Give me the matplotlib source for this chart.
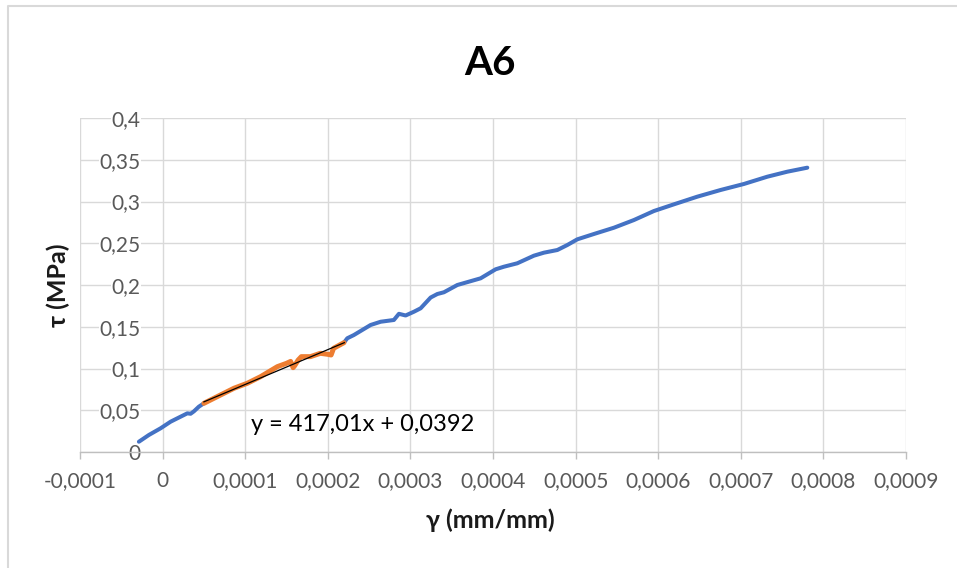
import matplotlib.pyplot as plt
from matplotlib.lines import Line2D
import numpy as np

plt.rcParams['font.family'] = ['Lato', 'DejaVu Sans']

# shear strain / shear stress, full test
gamma_a = [-2.87e-5, -1.66e-5, -2.4e-6, 9.7e-6, 2.18e-5, 2.99e-5, 3.39e-5, 3.79e-5, 4.39e-5, 5.0e-5]
tau_a = [0.0123, 0.0204, 0.0284, 0.0363, 0.0423, 0.0463, 0.0458, 0.0487, 0.0543, 0.0583]

gamma_b = [2.195e-4, 2.236e-4, 2.316e-4, 2.518e-4, 2.64e-4, 2.80e-4, 2.861e-4, 2.942e-4, 3.043e-4,
           3.124e-4, 3.245e-4, 3.326e-4, 3.406e-4, 3.568e-4, 3.850e-4, 4.032e-4, 4.132e-4, 4.294e-4,
           4.495e-4, 4.616e-4, 4.779e-4, 4.900e-4, 5.021e-4, 5.222e-4, 5.464e-4, 5.706e-4, 5.948e-4,
           6.190e-4, 6.474e-4, 6.756e-4, 7.038e-4, 7.321e-4, 7.563e-4, 7.805e-4]
tau_b = [0.1309, 0.1362, 0.1401, 0.1521, 0.1560, 0.1581, 0.1655, 0.1635, 0.1680,
         0.1721, 0.1850, 0.1892, 0.1913, 0.2000, 0.2080, 0.2188, 0.2219, 0.2260,
         0.2351, 0.2387, 0.2419, 0.2479, 0.2547, 0.2611, 0.2686, 0.2778, 0.2886,
         0.2966, 0.3058, 0.3138, 0.3210, 0.3297, 0.3357, 0.3405]

# linear range used for the fit
gamma_fit = [5.0e-5, 6.21e-5, 8.63e-5, 1.025e-4, 1.186e-4, 1.389e-4, 1.50e-4, 1.55e-4, 1.58e-4,
             1.60e-4, 1.64e-4, 1.68e-4, 1.79e-4, 1.91e-4, 2.00e-4, 2.04e-4, 2.07e-4, 2.195e-4]
tau_fit = [0.0583, 0.0643, 0.0763, 0.0823, 0.0902, 0.1022, 0.1062, 0.1085, 0.1010,
           0.1035, 0.1100, 0.1142, 0.1142, 0.1182, 0.1170, 0.1162, 0.1242, 0.1309]

slope = 417.01
intercept = 0.0392
fit_range = [5.0e-5, 2.2e-4]

xticks = [-0.0001, 0, 0.0001, 0.0002, 0.0003, 0.0004, 0.0005, 0.0006, 0.0007, 0.0008, 0.0009]
xticklabels = ['-0,0001', '0', '0,0001', '0,0002', '0,0003', '0,0004', '0,0005', '0,0006',
               '0,0007', '0,0008', '0,0009']
yticks = [0, 0.05, 0.1, 0.15, 0.2, 0.25, 0.3, 0.35, 0.4]
yticklabels = ['0', '0,05', '0,1', '0,15', '0,2', '0,25', '0,3', '0,35', '0,4']

grid_c = '#D9D9D9'
text_c = '#595959'
title_c = '#1A1A1A'

fig = plt.figure(figsize=(9.57, 5.68), dpi=100)
ax = fig.add_axes([80 / 957, 116 / 568, 826 / 957, 334 / 568])

ax.plot(gamma_a, tau_a, color='#4472C4', lw=2.9, solid_capstyle='round', solid_joinstyle='round', zorder=3)
ax.plot(gamma_b, tau_b, color='#4472C4', lw=2.9, solid_capstyle='round', solid_joinstyle='round', zorder=3)
ax.plot(gamma_fit, tau_fit, color='#ED7D31', lw=3.6, solid_capstyle='round', solid_joinstyle='round', zorder=4)
fx = np.array(fit_range)
ax.plot(fx, slope * fx + intercept, color='black', lw=0.9, zorder=5)

ax.text(1.065e-4, 0.0251, 'y = 417,01x + 0,0392', fontsize=17, color='black', va='baseline')

ax.set_xlim(-0.0001, 0.0009)
ax.set_ylim(0, 0.4)
ax.set_xticks(xticks)
ax.set_xticklabels(xticklabels)
ax.set_yticks(yticks)
ax.set_yticklabels(yticklabels)

ax.grid(True, color=grid_c, lw=1.0)
ax.set_axisbelow(True)
for s in ['top', 'right']:
    ax.spines[s].set_visible(False)
ax.spines['left'].set_position(('data', 0))
ax.spines['left'].set_visible(False)
ax.spines['bottom'].set_color('#BFBFBF')
ax.spines['bottom'].set_linewidth(1.0)

ax.tick_params(axis='x', direction='out', length=5, width=1.0, color='#BFBFBF',
               labelsize=15, labelcolor=text_c, pad=9)
ax.tick_params(axis='y', length=0, labelsize=15, labelcolor=text_c, pad=16)
for lab in ax.get_yticklabels():
    lab.set_bbox(dict(facecolor='white', edgecolor='none', pad=0.5))

fig.text(490 / 957, 1 - 75 / 568, 'A6', fontsize=29, fontweight='bold', ha='center', va='baseline')
fig.text(490 / 957, 1 - 528 / 568, 'γ (mm/mm)', fontsize=18, fontweight='bold',
         ha='center', va='baseline', color=title_c)
fig.text(58 / 957, 1 - 285 / 568, 'τ (MPa)', fontsize=18, fontweight='bold', rotation=90,
         ha='center', va='center', color=title_c)

# chart area border (only top and left edges are visible)
bx, by = 8 / 957, 1 - 6 / 568
fig.add_artist(Line2D([bx, bx, 1], [0, by, by], transform=fig.transFigure,
                      color=grid_c, lw=1.5))

fig.savefig('out.png', dpi=100)
